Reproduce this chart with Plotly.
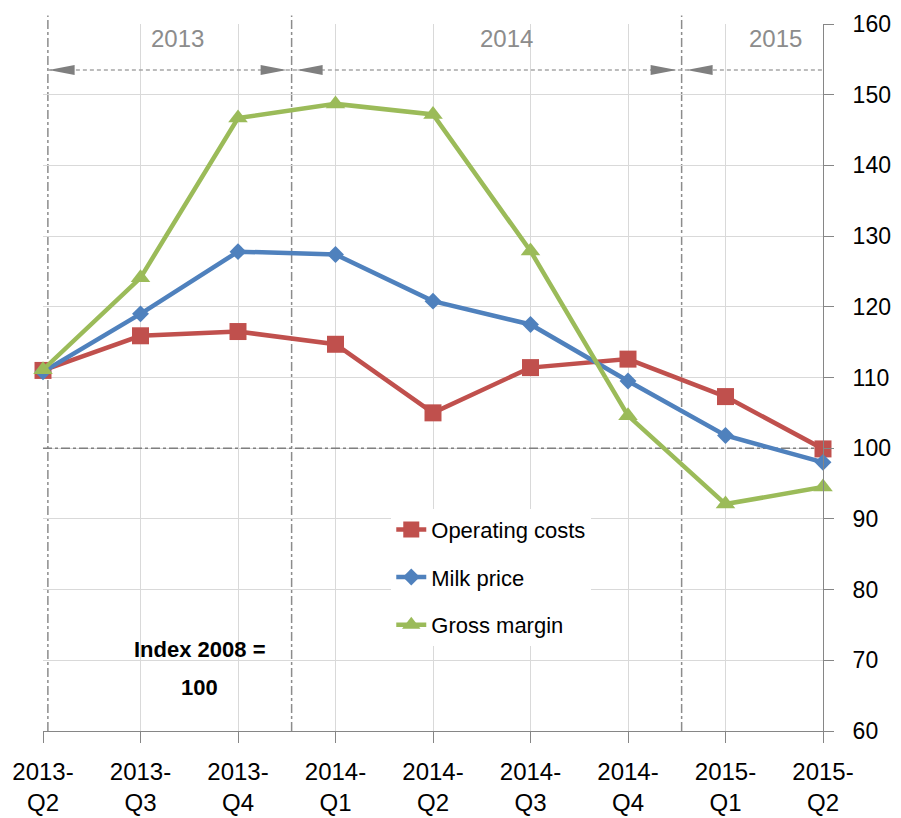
import plotly.graph_objects as go

quarters = ["2013-Q2", "2013-Q3", "2013-Q4", "2014-Q1", "2014-Q2",
            "2014-Q3", "2014-Q4", "2015-Q1", "2015-Q2"]
tick_labels = ["2013-<br>Q2", "2013-<br>Q3", "2013-<br>Q4", "2014-<br>Q1", "2014-<br>Q2",
               "2014-<br>Q3", "2014-<br>Q4", "2015-<br>Q1", "2015-<br>Q2"]
operating_costs = [111.0, 115.9, 116.5, 114.7, 105.0, 111.4, 112.6, 107.3, 99.9]
milk_price = [110.8, 119.0, 127.8, 127.4, 120.8, 117.5, 109.5, 101.8, 98.0]
gross_margin = [111.1, 124.1, 146.7, 148.7, 147.2, 127.9, 104.6, 92.1, 94.5]
years = ["2013", "2014", "2015"]

FONT = "Liberation Sans, Arial, sans-serif"
GRID = "#d9d9d9"
AXIS = "#868686"
# layout helpers (category index units)
year_bounds = [0.05, 2.55, 6.55, 8.0]
year_label_pos = [1.38, 4.75, 7.51]
arrow_level = 153.5
plot_w, plot_h = 780, 707

fig = go.Figure()
series = [
    ("Operating costs", operating_costs, "#c0504d", "square", 17),
    ("Milk price", milk_price, "#4f81bd", "diamond", 13),
    ("Gross margin", gross_margin, "#9bbb59", "triangle-up", 17),
]
for name, vals, color, symbol, size in series:
    fig.add_trace(go.Scatter(
        x=quarters, y=vals, name=name, mode="lines+markers",
        line={"color": color, "width": 4.5},
        marker={"symbol": symbol, "size": size, "color": color},
        legendgroup=name, cliponaxis=False,
    ))

shapes = []
# reference line at 100
shapes.append(dict(type="line", xref="x", yref="y", x0=0, x1=8, y0=100, y1=100,
                   line={"color": "#7f7f7f", "width": 1.5, "dash": "dashdot"}, layer="between"))
# year separators
for b in year_bounds[:-1]:
    shapes.append(dict(type="line", xref="x", yref="paper", x0=b, x1=b, y0=0, y1=1.012,
                       line={"color": "#8c8c8c", "width": 1.5, "dash": "dashdot"}, layer="between"))
# dashed period line
shapes.append(dict(type="line", xref="x", yref="y", x0=year_bounds[0], x1=year_bounds[-1],
                   y0=arrow_level, y1=arrow_level,
                   line={"color": "#a6a6a6", "width": 1.5, "dash": "4px,3px"}, layer="between"))
# arrow heads
ay = (arrow_level - 60) / 100
ah = 5 / plot_h
alen = 26 / plot_w
gap = 5 / plot_w
for i in range(len(years)):
    start = year_bounds[i] / 8 + (gap if i > 0 else 0.001)
    shapes.append(dict(type="path", xref="paper", yref="paper",
                       path=f"M {start},{ay} L {start + alen},{ay + ah} L {start + alen},{ay - ah} Z",
                       fillcolor="#7f7f7f", line={"width": 0}))
    if i < len(years) - 1:
        end = year_bounds[i + 1] / 8 - gap
        shapes.append(dict(type="path", xref="paper", yref="paper",
                           path=f"M {end},{ay} L {end - alen},{ay + ah} L {end - alen},{ay - ah} Z",
                           fillcolor="#7f7f7f", line={"width": 0}))

annotations = []
for yr, pos in zip(years, year_label_pos):
    annotations.append(dict(x=pos, y=158.0, xref="x", yref="y", text=yr, showarrow=False,
                            font={"family": FONT, "size": 24, "color": "#8c8c8c"}))
annotations.append(dict(x=1.61, y=71.5, xref="x", yref="y", text="<b>Index 2008 =</b>", showarrow=False,
                        font={"family": FONT, "size": 22, "color": "#000000"}))
annotations.append(dict(x=1.61, y=66.2, xref="x", yref="y", text="<b>100</b>", showarrow=False,
                        font={"family": FONT, "size": 22, "color": "#000000"}))

# the page body adds an 8px offset, so the figure is 8px smaller than the window
fig.update_layout(
    width=893, height=810,
    margin={"l": 35, "r": 78, "t": 16, "b": 87, "autoexpand": False},
    paper_bgcolor="white", plot_bgcolor="white",
    font={"family": FONT, "size": 24, "color": "#000000"},
    shapes=shapes, annotations=annotations,
    showlegend=True,
    legend={"x": 0.4465, "y": 0.3145, "xanchor": "left", "yanchor": "top",
            "bgcolor": "white", "font": {"family": FONT, "size": 22},
            "tracegroupgap": 16},
    xaxis={"type": "category", "range": [0, 8], "tickvals": quarters, "ticktext": tick_labels,
           "showgrid": True, "gridcolor": GRID, "showline": True, "linecolor": AXIS,
           "ticks": "outside", "ticklen": 11, "tickcolor": AXIS, "ticklabelstandoff": 8,
           "zeroline": False, "automargin": False},
    yaxis={"range": [60, 160], "dtick": 10, "side": "right",
           "showgrid": True, "gridcolor": GRID, "showline": True, "linecolor": AXIS,
           "ticks": "outside", "ticklen": 10, "tickcolor": AXIS, "ticklabelstandoff": 14,
           "tickfont": {"size": 23}, "zeroline": False, "automargin": False},
)

fig.write_html("out.html")
